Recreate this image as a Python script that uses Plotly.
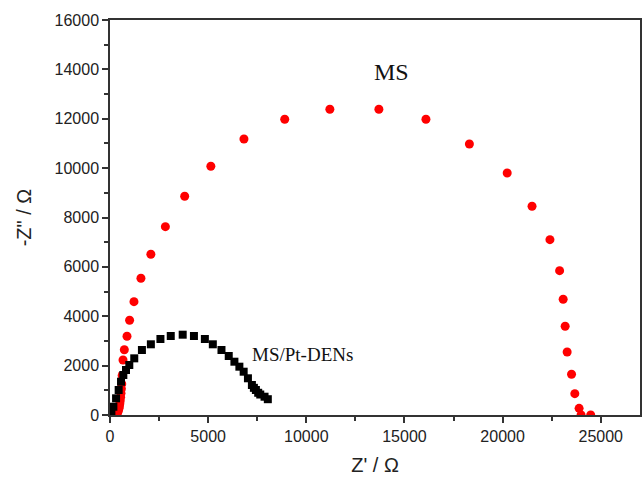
import plotly.graph_objects as go

# MS (red circles)
ms_x = [330, 360, 400, 430, 460, 480, 500, 520, 540, 560, 580, 600, 620, 664, 730, 866, 998, 1221,
        1576, 2082, 2822, 3805, 5137, 6824, 8901, 11201, 13698, 16095, 18309, 20234, 21500,
        22412, 22904, 23086, 23187, 23289, 23512, 23679, 23897, 23998, 24489]
ms_y = [10, 60, 120, 190, 270, 360, 460, 580, 720, 880, 1060, 1260, 1600, 2228, 2645, 3188, 3836, 4590,
        5538, 6510, 7628, 8859, 10075, 11181, 11979, 12384, 12384, 11979, 10978, 9803, 8454,
        7101, 5846, 4687, 3594, 2552, 1649, 863, 271, 0, 0]

# MS/Pt-DENs (black squares)
pt_x = [71, 172, 309, 441, 562, 679, 815, 983, 1236, 1626, 2082, 2569, 3095, 3703, 4276, 4833,
        5238, 5679, 6049, 6338, 6591, 6809, 7027, 7229, 7330, 7432, 7550, 7655, 7873, 8040]
pt_y = [69, 336, 676, 1013, 1349, 1620, 1823, 2025, 2295, 2633, 2864, 3079, 3200, 3253, 3200, 3079,
        2864, 2633, 2390, 2159, 1957, 1754, 1487, 1215, 1100, 1013, 900, 830, 741, 640]

x_ticks = [0, 5000, 10000, 15000, 20000, 25000]
y_ticks = [0, 2000, 4000, 6000, 8000, 10000, 12000, 14000, 16000]

fig = go.Figure()
fig.add_trace(go.Scatter(x=ms_x, y=ms_y, mode="markers", name="MS",
                         marker=dict(symbol="circle", size=9, color="#ff0000", line=dict(width=0))))
fig.add_trace(go.Scatter(x=pt_x, y=pt_y, mode="markers", name="MS/Pt-DENs",
                         marker=dict(symbol="square", size=8, color="#000000", line=dict(width=0))))

fig.add_annotation(x=14350, y=13900, text="MS", showarrow=False,
                   font=dict(family="Liberation Serif", size=24, color="#111"))
fig.add_annotation(x=9800, y=2450, text="MS/Pt-DENs", showarrow=False,
                   font=dict(family="Liberation Serif", size=19, color="#111"))

axis_common = dict(showline=True, linecolor="#333", linewidth=1.5, mirror=True,
                   ticks="outside", ticklen=6, tickwidth=1.5, tickcolor="#333",
                   showgrid=False, zeroline=False, tickformat="d",
                   tickfont=dict(family="Liberation Sans", size=16, color="#222"))

fig.update_xaxes(range=[0, 27000], tickvals=x_ticks,
                 minor=dict(ticks="outside", ticklen=4, tickwidth=1.5, tickcolor="#333", dtick=2500, tick0=0),
                 title=dict(text="Z' / Ω", font=dict(family="Liberation Sans", size=20, color="#222"), standoff=14),
                 **axis_common)
fig.update_yaxes(range=[0, 16000], tickvals=y_ticks,
                 minor=dict(ticks="outside", ticklen=4, tickwidth=1.5, tickcolor="#333", dtick=1000, tick0=0),
                 title=dict(text="-Z\" / Ω", font=dict(family="Liberation Sans", size=20, color="#222"), standoff=18),
                 **axis_common)

fig.update_layout(width=644, height=477, margin=dict(l=110, r=2, t=20, b=62),
                  plot_bgcolor="white", paper_bgcolor="white", showlegend=False)

fig.write_html("out.html")
